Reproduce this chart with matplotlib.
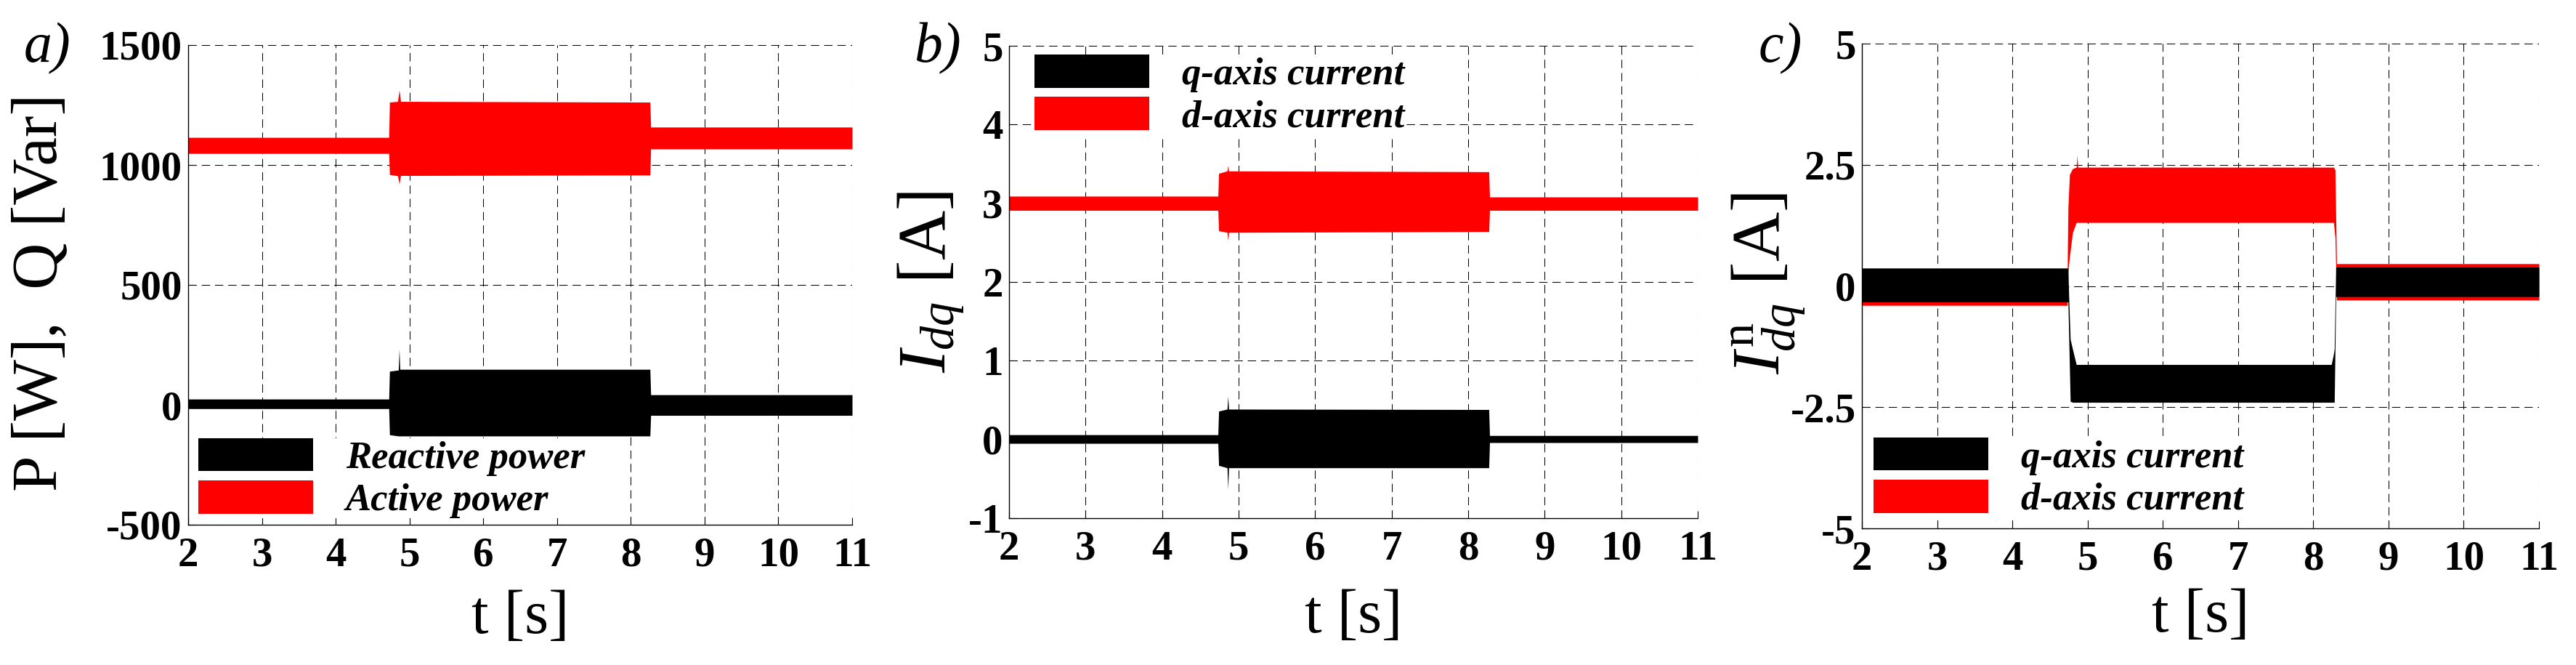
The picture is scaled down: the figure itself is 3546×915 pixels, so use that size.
import matplotlib
matplotlib.use("Agg")
import matplotlib.pyplot as plt
from matplotlib.patches import Patch
from matplotlib.font_manager import FontProperties

plt.rcParams['font.family'] = ['Liberation Serif', 'DejaVu Serif']
plt.rcParams['mathtext.fontset'] = 'custom'
plt.rcParams['mathtext.rm'] = 'Liberation Serif'
plt.rcParams['mathtext.it'] = 'Liberation Serif:italic'
plt.rcParams['mathtext.bf'] = 'Liberation Serif:bold'

# ---------------- data (envelopes) ----------------
# Panel a: powers
a_active_t = [2.0, 4.72, 4.73, 4.84, 4.86, 4.88, 8.26, 8.27, 11.0]
a_active_hi = [1115, 1115, 1262, 1265, 1312, 1265, 1262, 1158, 1158]
a_active_lo = [1048, 1048, 960, 955, 921, 956, 958, 1067, 1067]
a_react_t = [2.0, 4.72, 4.73, 4.85, 4.86, 4.87, 8.26, 8.27, 11.0]
a_react_hi = [24, 24, 140, 145, 233, 148, 148, 42, 42]
a_react_lo = [-16, -16, -125, -130, -130, -130, -130, -44, -44]

# Panel b: dq currents
b_d_t = [2.0, 4.73, 4.74, 4.85, 4.86, 4.87, 8.27, 8.28, 11.0]
b_d_hi = [3.09, 3.09, 3.38, 3.41, 3.48, 3.41, 3.40, 3.08, 3.08]
b_d_lo = [2.91, 2.91, 2.65, 2.63, 2.53, 2.63, 2.64, 2.91, 2.91]
b_q_t = [2.0, 4.73, 4.74, 4.85, 4.86, 4.87, 8.27, 8.28, 11.0]
b_q_hi = [0.06, 0.06, 0.36, 0.385, 0.55, 0.385, 0.38, 0.05, 0.05]
b_q_lo = [-0.05, -0.05, -0.33, -0.36, -0.63, -0.36, -0.36, -0.04, -0.04]

# Panel c: negative-sequence dq currents
c_d_t = [2.0, 4.73, 4.74, 4.76, 4.80, 4.85, 4.86, 4.87, 8.27, 8.29, 8.31, 11.0]
c_d_hi = [0.30, 0.30, 1.6, 2.30, 2.42, 2.45, 2.70, 2.45, 2.45, 2.40, 0.46, 0.46]
c_d_lo = [-0.40, -0.40, 0.30, 0.60, 1.10, 1.31, 1.31, 1.31, 1.31, 1.00, -0.29, -0.29]
c_q_t = [2.0, 4.74, 4.75, 4.77, 4.80, 4.85, 8.24, 8.27, 8.28, 8.30, 11.0]
c_q_hi = [0.37, 0.37, -0.2, -1.1, -1.3, -1.62, -1.62, -1.40, -1.30, 0.39, 0.39]
c_q_lo = [-0.33, -0.33, -1.0, -2.38, -2.40, -2.40, -2.40, -2.40, -2.40, -0.22, -0.22]

x_ticks = [2, 3, 4, 5, 6, 7, 8, 9, 10, 11]
a_yticks = [-500, 0, 500, 1000, 1500]
b_yticks = [-1, 0, 1, 2, 3, 4, 5]
c_yticks = [-5, -2.5, 0, 2.5, 5]
c_yticklabels = ['-5', '-2.5', '0', '2.5', '5']

labels_a = ['Reactive power', 'Active power']
labels_dq = ['q-axis current', 'd-axis current']

# ---------------- figure ----------------
W, H = 3546, 915
fig = plt.figure(figsize=(W / 100, H / 100), dpi=100)


def px_axes(l, r, t, b):
    return fig.add_axes([l / W, 1 - b / H, (r - l) / W, (b - t) / H])


ax_a = px_axes(259, 1173, 62, 722)
ax_b = px_axes(1389, 2337, 63, 713)
ax_c = px_axes(2563, 3495, 60, 727)

tick_font = FontProperties(family='Liberation Serif', weight='bold', size=41)
leg_font = FontProperties(family='Liberation Serif', weight='bold', style='italic', size=38)
LAB = 61


def style(ax, yticks, ylim, yticklabels=None):
    ax.set_xlim(2, 11)
    ax.set_ylim(*ylim)
    ax.set_xticks(x_ticks)
    ax.set_yticks(yticks)
    ax.set_xticklabels([str(v) for v in x_ticks], fontproperties=tick_font)
    if yticklabels is None:
        yticklabels = [str(v) for v in yticks]
    ax.set_yticklabels(yticklabels, fontproperties=tick_font)
    ax.tick_params(axis='both', direction='in', length=7, width=0.8, color='k')
    ax.tick_params(axis='x', pad=12)
    ax.tick_params(axis='y', pad=6)
    ax.grid(True, color='k', linestyle=(0, (11, 6.5)), linewidth=0.75)
    ax.set_axisbelow(True)
    ax.spines['top'].set_visible(False)
    ax.spines['right'].set_visible(False)
    ax.spines['left'].set_linewidth(1.0)
    ax.spines['bottom'].set_linewidth(1.0)


def legend(ax, labels, loc, anchor):
    handles = [Patch(facecolor='black', edgecolor='none'),
               Patch(facecolor='red', edgecolor='none')]
    lg = ax.legend(handles, labels, loc=loc, bbox_to_anchor=anchor,
                   borderaxespad=0, borderpad=0.0, prop=leg_font,
                   handlelength=3.0, handleheight=0.95, handletextpad=0.85,
                   labelspacing=0.12, frameon=True, fancybox=False,
                   facecolor='white', edgecolor='none', framealpha=1)
    lg.set_zorder(5)


# Panel a
ax_a.fill_between(a_active_t, a_active_lo, a_active_hi, color='red', lw=0, zorder=2)
ax_a.fill_between(a_react_t, a_react_lo, a_react_hi, color='black', lw=0, zorder=3)
style(ax_a, a_yticks, (-500, 1500))
ax_a.set_ylabel('P [W],  Q [Var]', fontsize=LAB + 3)
ax_a.yaxis.set_label_coords(-0.178, 0.485)
ax_a.set_xlabel('t [s]', fontsize=LAB)
ax_a.xaxis.set_label_coords(0.5, -0.136)
legend(ax_a, labels_a, 'lower left', (0.0153, 0.0136))

# Panel b
ax_b.fill_between(b_d_t, b_d_lo, b_d_hi, color='red', lw=0, zorder=2)
ax_b.fill_between(b_q_t, b_q_lo, b_q_hi, color='black', lw=0, zorder=3)
style(ax_b, b_yticks, (-1, 5))
ax_b.set_ylabel(r'$I_{dq}$ [A]', fontsize=LAB + 7)
ax_b.yaxis.set_label_coords(-0.062, 0.50)
ax_b.set_xlabel('t [s]', fontsize=LAB)
ax_b.xaxis.set_label_coords(0.5, -0.151)
legend(ax_b, labels_dq, 'upper left', (0.0369, 0.9815))

# Panel c
ax_c.fill_between(c_d_t, c_d_lo, c_d_hi, color='red', lw=0, zorder=2)
ax_c.fill_between(c_q_t, c_q_lo, c_q_hi, color='black', lw=0, zorder=3)
style(ax_c, c_yticks, (-5, 5), c_yticklabels)
ax_c.set_ylabel(r'$I_{dq}^{\mathrm{n}}$ [A]', fontsize=LAB + 7)
ax_c.yaxis.set_label_coords(-0.080, 0.505)
ax_c.set_xlabel('t [s]', fontsize=LAB)
ax_c.xaxis.set_label_coords(0.5, -0.124)
legend(ax_c, labels_dq, 'lower left', (0.0172, 0.0225))

# Panel letters
for x, s in [(65, 'a)'), (1290, 'b)'), (2451, 'c)')]:
    fig.text(x / W, 1 - 67 / H, s, fontsize=56, style='italic',
             ha='center', va='center')

fig.savefig('out.png', dpi=100)
